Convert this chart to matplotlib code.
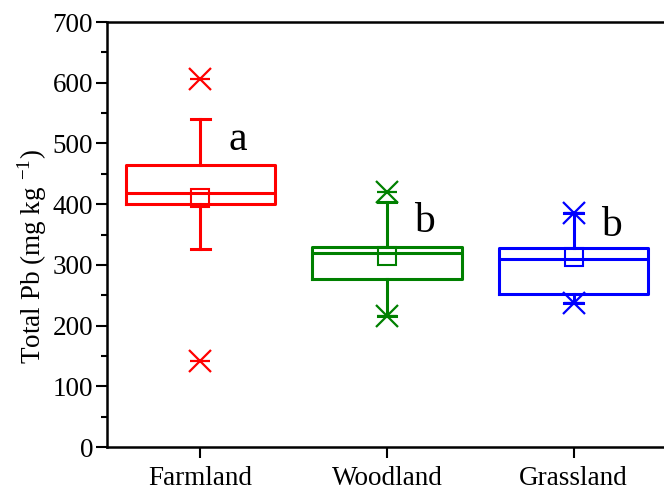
import matplotlib
matplotlib.use("Agg")
import matplotlib.pyplot as plt
from matplotlib.ticker import MultipleLocator

# values (mg/kg)
categories = ["Farmland", "Woodland", "Grassland"]
q1 = [401, 277, 252]
median = [418, 320, 309]
q3 = [465, 330, 327]
mean = [410, 315, 313]
whisker_low = [326, 215, 238]
whisker_high = [540, 403, 385]
pct_low = [142, 215, 238]
pct_high = [606, 420, 385]
min_vals = [142, 215, 238]
max_vals = [606, 420, 385]
letters = ["a", "b", "b"]
letter_y = [490, 354, 347]
colors = ["#ff0000", "#008000", "#0000ff"]

plt.rcParams["font.family"] = ["Liberation Serif", "DejaVu Serif"]
plt.rcParams["mathtext.fontset"] = "custom"
plt.rcParams["mathtext.rm"] = "Liberation Serif"

fig = plt.figure(figsize=(6.64, 4.90), dpi=100)
ax = fig.add_axes([107 / 664, 43 / 490, 560 / 664, 425 / 490])

positions = [1, 2, 3]
stats = []
for i, name in enumerate(categories):
    stats.append({
        "label": name,
        "q1": q1[i], "med": median[i], "q3": q3[i], "mean": mean[i],
        "whislo": whisker_low[i], "whishi": whisker_high[i], "fliers": [],
    })

art = ax.bxp(stats, positions=positions, widths=0.8, capwidths=0.1,
             showmeans=True, patch_artist=False, manage_ticks=False)

for i, c in enumerate(colors):
    art["boxes"][i].set(color=c, linewidth=2.2)
    art["medians"][i].set(color=c, linewidth=2.2)
    for w in art["whiskers"][2 * i:2 * i + 2]:
        w.set(color=c, linewidth=2.2)
    for cp in art["caps"][2 * i:2 * i + 2]:
        cp.set(color=c, linewidth=2.2)
    art["means"][i].set(marker="s", markersize=13.5, markerfacecolor="none",
                        markeredgecolor=c, markeredgewidth=1.5)
    # 1% / 99% and min / max markers
    ax.plot([positions[i]] * 2, [pct_low[i], pct_high[i]], linestyle="none",
            marker="x", markersize=16, markeredgewidth=1.6, color=c)
    ax.plot([positions[i]] * 2, [min_vals[i], max_vals[i]], linestyle="none",
            marker="_", markersize=15, markeredgewidth=1.6, color=c)
    ax.text(positions[i] + 0.2, letter_y[i], letters[i], fontsize=30,
            ha="center", va="baseline")

ax.set_xlim(0.5, 3.5)
ax.set_ylim(0, 700)
ax.set_xticks(positions)
ax.set_xticklabels(categories, fontsize=19.5)
ax.yaxis.set_major_locator(MultipleLocator(100))
ax.yaxis.set_minor_locator(MultipleLocator(50))
ax.tick_params(axis="y", labelsize=19.5, width=1.5, length=8, pad=2, direction="out")
ax.tick_params(axis="y", which="minor", width=1.5, length=4, direction="out")
ax.tick_params(axis="x", width=1.5, length=8, direction="out", pad=6)
ax.set_ylabel("Total Pb (mg kg $^{-1}$)", fontsize=19.5)
ax.yaxis.set_label_coords(-0.104, 0.449)

for s in ax.spines.values():
    s.set_linewidth(1.8)

fig.savefig("out.png", dpi=100)
